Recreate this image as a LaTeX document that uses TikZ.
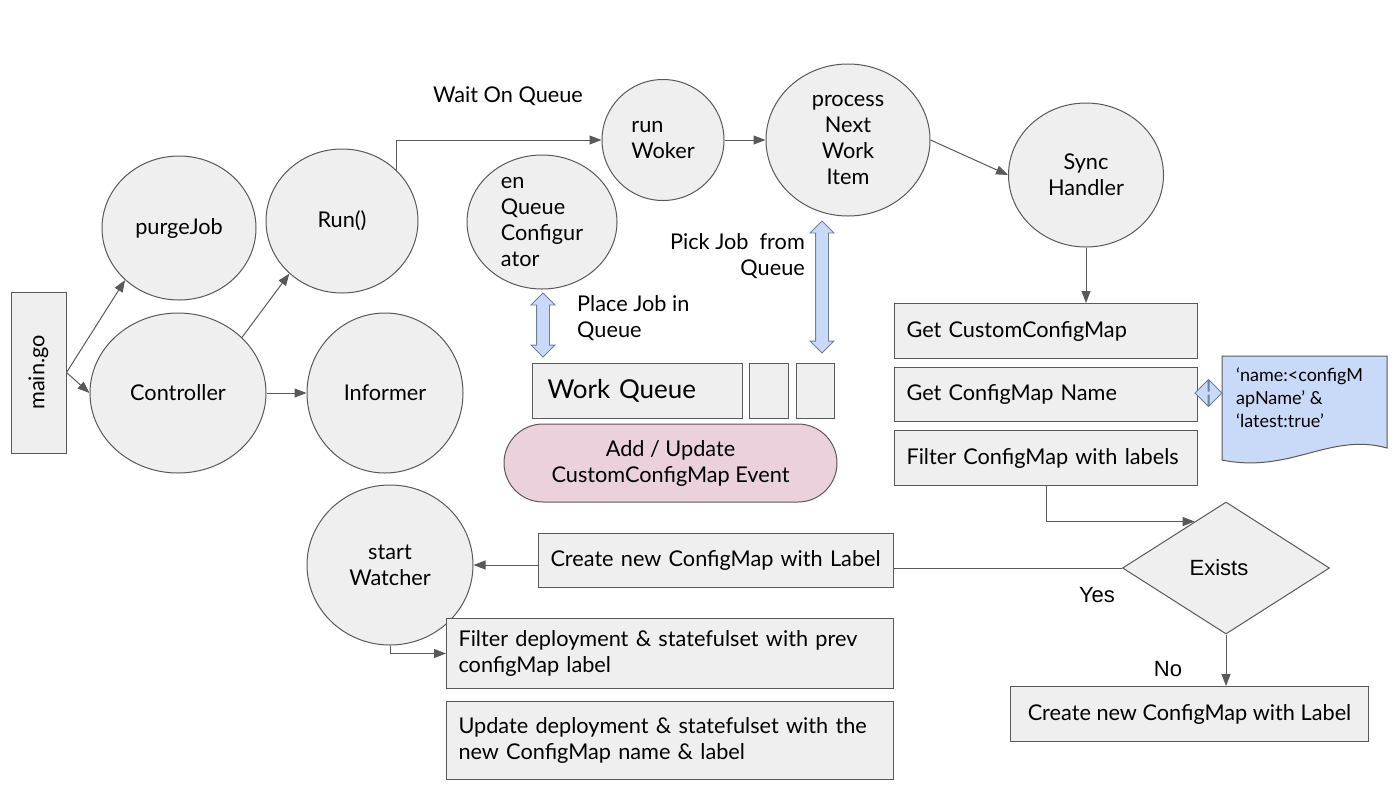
\documentclass[tikz,border=0pt]{standalone}
\usepackage{fontspec}
\setmainfont{Lato}
\newfontfamily\arialfont{Liberation Sans}
\usetikzlibrary{arrows.meta,shapes,positioning}
\definecolor{nodegray}{HTML}{EFEFEF}
\definecolor{edgegray}{HTML}{595959}
\definecolor{qblue}{HTML}{C9DAF8}
\definecolor{qblueline}{HTML}{6E7E9C}
\definecolor{evpink}{HTML}{EAD1DC}

\begin{document}
\begin{tikzpicture}[x=1pt, y=-1pt, >={Triangle[length=12pt,width=9pt]},
  every node/.style={font=\fontsize{21.7}{26}\selectfont},
  proc/.style={ellipse, draw=edgegray, fill=nodegray, line width=1pt,
               inner sep=0pt, align=center},
  opbox/.style={rectangle, draw=edgegray, fill=nodegray, line width=1pt,
                inner xsep=12pt, inner ysep=0pt, align=left, anchor=north west},
  link/.style={->, draw=edgegray, line width=1pt},
  qarrow/.style={double arrow, draw=qblueline, fill=qblue, line width=0.8pt,
                 inner xsep=0pt, inner ysep=6pt, double arrow head extend=5.5pt},
  lbl/.style={inner sep=0pt},
  yesno/.style={inner sep=0pt, font=\arialfont\fontsize{22}{26}\selectfont}]

  \useasboundingbox (0,0) rectangle (1400,788);

  % ---- Entry point and controller ----
  \node[opbox, anchor=center, minimum width=55pt, minimum height=161pt, inner xsep=0pt]
    (main) at (38.5,372.5) {\rotatebox{90}{main.go}};
  \node[proc, minimum width=154pt, minimum height=144pt] (purge) at (179,228) {purgeJob};
  \node[proc, minimum width=152pt, minimum height=144pt] (run)   at (342,221) {Run()};
  \node[proc, minimum width=176pt, minimum height=160pt] (ctrl)  at (178,393) {Controller};
  \node[proc, minimum width=156pt, minimum height=160pt] (inf)   at (385,393) {Informer};

  % ---- Queue workers ----
  \node[proc, minimum width=150pt, minimum height=134pt, align=left, inner sep=-3pt]
    (enq) at (542,222) {en\\Queue\\Configur\\ator};
  \node[proc, minimum width=122pt, minimum height=121pt, align=left]
    (rwork) at (663,140) {run\\Woker};
  \node[proc, minimum width=164pt, minimum height=152pt]
    (pnext) at (848,140) {process\\Next\\Work\\Item};
  \node[proc, minimum width=155pt, minimum height=144pt]
    (sync) at (1086,175) {Sync\\Handler};
  \node[lbl] (waitq) at (508,96) {Wait On Queue};

  % ---- Work queue and event ----
  \node[opbox, minimum width=210pt, minimum height=55pt, text width=180pt, inner xsep=15pt,
        font=\fontsize{26}{30}\selectfont] (wq) at (532,363) {Work Queue};
  \node[opbox, minimum width=39pt, minimum height=55pt] (wq2) at (749,363) {};
  \node[opbox, minimum width=38pt, minimum height=55pt] (wq3) at (796,363) {};
  \node[draw=edgegray, fill=evpink, line width=1pt, rounded corners=39pt,
        minimum width=333pt, minimum height=78pt, align=center]
    (event) at (670.5,463) {Add / Update\\CustomConfigMap Event};

  \node[qarrow, rotate=90, minimum height=64pt]  (placearr) at (543,325) {};
  \node[qarrow, rotate=90, minimum height=132pt] (pickarr)  at (822,287) {};
  \node[lbl, anchor=west, align=left]  (placeq) at (577,318) {Place Job in\\Queue};
  \node[lbl, anchor=east, align=right] (pickq)  at (805,256) {Pick Job\ \ from\\Queue};

  % ---- Sync handler steps ----
  \node[opbox, minimum width=303pt, minimum height=55pt, text width=279pt]
    (gccm) at (894,303) {Get CustomConfigMap};
  \node[opbox, minimum width=303pt, minimum height=54pt, text width=279pt]
    (gcmn) at (894,367) {Get ConfigMap Name};
  \node[opbox, minimum width=303pt, minimum height=55pt, text width=279pt]
    (fcm) at (894,430) {Filter ConfigMap with labels};

  \filldraw[draw=edgegray, fill=qblue, line width=1pt]
    (1222,356) -- (1387,356) -- (1387,448)
    .. controls (1330,432) and (1290,474) .. (1222,460) -- cycle;
  \node[lbl, anchor=north west, align=left, font=\fontsize{18}{23}\selectfont]
    (note) at (1236,368) {‘name:<configM\\apName’ \&\\‘latest:true’};
  \node[qarrow, minimum height=27pt, inner ysep=1.5pt, double arrow head extend=11pt]
    (notearr) at (1208.5,393) {};

  \node[diamond, draw=edgegray, fill=nodegray, line width=1pt, inner sep=0pt,
        minimum width=207pt, minimum height=132pt,
        font=\arialfont\fontsize{22}{26}\selectfont] (exists) at (1226,568) {Exists\hspace*{14pt}};
  \node[yesno] (yes) at (1097,595) {Yes};
  \node[yesno] (no)  at (1168,669) {No};

  \node[opbox, minimum width=358pt, minimum height=55pt, align=center]
    (cnew2) at (1010,686) {Create new ConfigMap with Label};
  \node[opbox, minimum width=355pt, minimum height=54pt, text width=331pt]
    (cnew) at (538,533) {Create new ConfigMap with Label};

  % ---- Watcher ----
  \node[proc, minimum width=166pt, minimum height=160pt] (watch) at (390,565) {start\\Watcher};
  \node[opbox, minimum width=447pt, minimum height=70pt, text width=423pt]
    (fdep) at (446,618) {Filter deployment \& statefulset with prev\\configMap label};
  \node[opbox, minimum width=447pt, minimum height=78pt, text width=423pt]
    (udep) at (446,701) {Update deployment \& statefulset with the\\new ConfigMap name \& label};

  % ---- Connectors ----
  \draw[link] (main.east) -- (purge.224);
  \draw[link] (main.east) -- (ctrl.west);
  \draw[link] (ctrl.41) -- (run.225);
  \draw[link] (ctrl) -- (inf);
  \draw[link] (run.43) |- (rwork.west);
  \draw[link] (rwork) -- (pnext);
  \draw[link] (pnext.east) -- (sync.west);
  \draw[link] (sync.south) -- (sync.south |- gccm.north);
  \draw[link] (fcm.south) |- (exists.124);
  \draw[link, -] (exists.west) -- (cnew.east |- exists.west);
  \draw[link] (exists.south) -- (exists.south |- cnew2.north);
  \draw[link] (cnew.west |- watch.east) -- (watch.east);
  \draw[link] (watch.south) |- (fdep.west);
\end{tikzpicture}
\end{document}
